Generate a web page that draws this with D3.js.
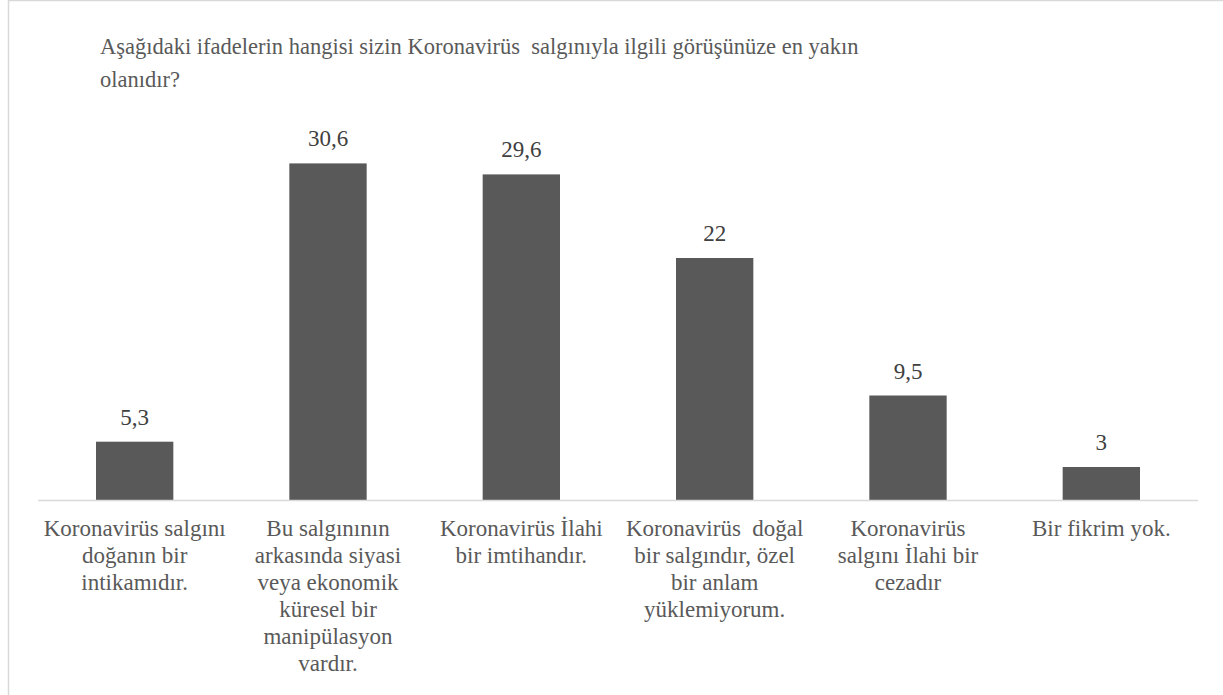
<!DOCTYPE html>
<html>
<head>
<meta charset="utf-8">
<script src="https://cdn.jsdelivr.net/npm/d3@7"></script>
<style>
  html, body { margin: 0; padding: 0; background: #fff; }
  svg { display: block; }
</style>
</head>
<body>
<div id="chart"></div>
<script>
// Chart data
const titleLines = [
  'Aşağıdaki ifadelerin hangisi sizin Koronavirüs  salgınıyla ilgili görüşünüze en yakın',
  'olanıdır?'
]
const categories = [
  ['Koronavirüs salgını', 'doğanın bir', 'intikamıdır.'],
  ['Bu salgınının', 'arkasında siyasi', 'veya ekonomik', 'küresel bir', 'manipülasyon', 'vardır.'],
  ['Koronavirüs İlahi', 'bir imtihandır.'],
  ['Koronavirüs  doğal', 'bir salgındır, özel', 'bir anlam', 'yüklemiyorum.'],
  ['Koronavirüs', 'salgını İlahi bir', 'cezadır'],
  ['Bir fikrim yok.']
]
const values = [5.3, 30.6, 29.6, 22, 9.5, 3]
const valueLabels = ['5,3', '30,6', '29,6', '22', '9,5', '3']

const width = 1223
const height = 695
const plot = { left: 38, right: 1198, top: 115, bottom: 500 }
const serif = '"Liberation Serif", Tinos, "Times New Roman", Times, "DejaVu Serif", serif'

const svg = d3.select('#chart')
  .append('svg')
  .attr('width', width)
  .attr('height', height)
  .style('font-family', serif)

// Outer frame (right and bottom edges fall outside the picture)
svg.append('rect')
  .attr('x', 8.5)
  .attr('y', 0.5)
  .attr('width', width + 20)
  .attr('height', height + 20)
  .attr('fill', '#fff')
  .attr('stroke', '#d9d9d9')
  .attr('stroke-width', 1.5)

// Title
svg.append('text')
  .attr('x', 100)
  .attr('y', 54)
  .style('font-family', serif)
  .style('font-size', '22.5px')
  .style('white-space', 'pre')
  .attr('fill', '#595959')
  .selectAll('tspan')
  .data(titleLines)
  .join('tspan')
  .attr('x', 100)
  .attr('dy', (d, i) => i === 0 ? 0 : 33)
  .text(d => d)

// Scales
const x = d3.scaleBand()
  .domain(d3.range(values.length))
  .range([plot.left, plot.right])
  .paddingInner(0.6)
  .paddingOuter(0.3)

const y = d3.scaleLinear()
  .domain([0, 35])
  .range([plot.bottom, plot.top])

// Bars
svg.append('g')
  .selectAll('rect')
  .data(values)
  .join('rect')
  .attr('x', (d, i) => x(i))
  .attr('y', d => y(d))
  .attr('width', x.bandwidth())
  .attr('height', d => y(0) - y(d))
  .attr('fill', '#595959')

// Value labels
svg.append('g')
  .selectAll('text')
  .data(values)
  .join('text')
  .attr('x', (d, i) => x(i) + x.bandwidth() / 2)
  .attr('y', d => y(d) - 17)
  .attr('text-anchor', 'middle')
  .style('font-family', serif)
  .style('font-size', '23px')
  .attr('fill', '#404040')
  .text((d, i) => valueLabels[i])

// Category axis line
svg.append('line')
  .attr('x1', plot.left)
  .attr('x2', plot.right)
  .attr('y1', y(0) + 0.5)
  .attr('y2', y(0) + 0.5)
  .attr('stroke', '#d9d9d9')
  .attr('stroke-width', 1.5)

// Category labels, one tspan per line
svg.append('g')
  .selectAll('text')
  .data(categories)
  .join('text')
  .attr('text-anchor', 'middle')
  .attr('y', 536)
  .style('font-family', serif)
  .style('font-size', '23px')
  .style('white-space', 'pre')
  .attr('fill', '#595959')
  .each(function (lines, i) {
    const cx = x(i) + x.bandwidth() / 2
    d3.select(this).selectAll('tspan')
      .data(lines)
      .join('tspan')
      .attr('x', cx)
      .attr('dy', (d, j) => j === 0 ? 0 : 27)
      .text(d => d)
  })
</script>
</body>
</html>
